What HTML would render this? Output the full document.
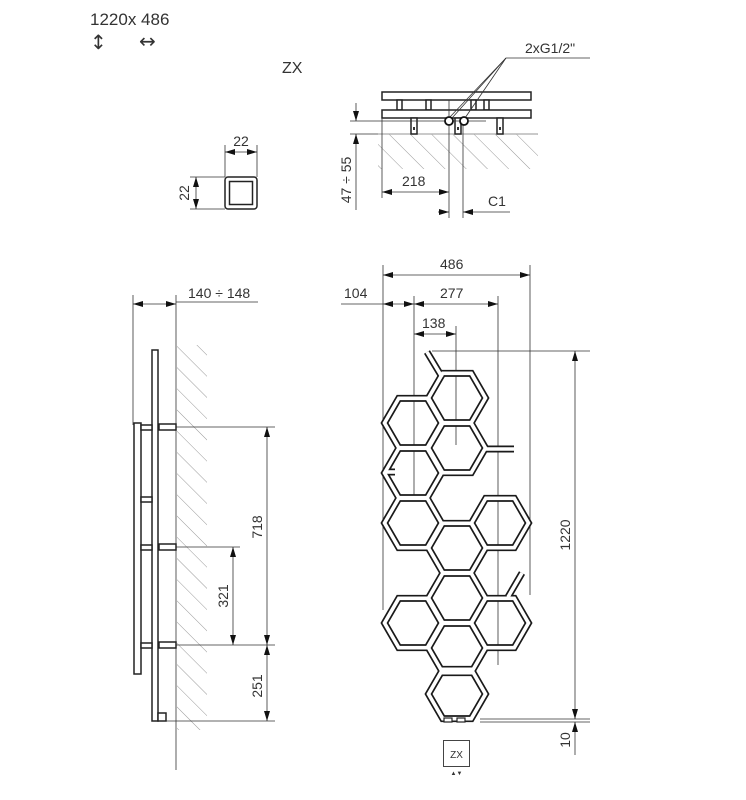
<!DOCTYPE html>
<html><head><meta charset="utf-8"><style>
html,body{margin:0;padding:0;background:#fff;}
svg{display:block;}
text{font-family:"Liberation Sans",sans-serif;fill:#333;}
</style></head><body>
<svg width="746" height="800" viewBox="0 0 746 800" xmlns="http://www.w3.org/2000/svg">
<defs>
<marker id="a" viewBox="0 0 10 6" refX="10" refY="3" markerWidth="10" markerHeight="6" orient="auto-start-reverse" markerUnits="userSpaceOnUse"><path d="M0,0L10,3L0,6z" fill="#111"/></marker>
<pattern id="h" width="15" height="15" patternUnits="userSpaceOnUse" patternTransform="rotate(-45)"><line x1="0" y1="0" x2="0" y2="15" stroke="#999" stroke-width="1"/></pattern>
<path id="hx" d="M28.5,0L14.25,24.68L-14.25,24.68L-28.5,0L-14.25,-24.68L14.25,-24.68Z"/>
</defs>

<!-- header -->
<text x="90" y="25" font-size="17">1220x 486</text>
<text x="90" y="49" font-size="20" style="font-family:'DejaVu Sans',sans-serif">↕</text>
<text x="139" y="48" font-size="20" style="font-family:'DejaVu Sans',sans-serif">↔</text>
<text x="282" y="73" font-size="16">ZX</text>

<!-- square profile -->
<g stroke="#333" stroke-width="0.8" fill="none">
<line x1="225" y1="145" x2="225" y2="177"/><line x1="257" y1="145" x2="257" y2="177"/>
<line x1="225" y1="152" x2="257" y2="152" marker-start="url(#a)" marker-end="url(#a)"/>
<line x1="190" y1="177" x2="225" y2="177"/><line x1="190" y1="209" x2="225" y2="209"/>
<line x1="196" y1="177" x2="196" y2="209" marker-start="url(#a)" marker-end="url(#a)"/>
</g>
<rect x="225" y="177" width="32" height="32" rx="3" fill="none" stroke="#222" stroke-width="1.5"/>
<rect x="229.5" y="181.5" width="23" height="23" fill="none" stroke="#222" stroke-width="1.5"/>
<text x="241" y="146" font-size="14" text-anchor="middle">22</text>
<text transform="translate(189,193) rotate(-90)" font-size="14" text-anchor="middle">22</text>

<!-- top view -->
<rect x="378" y="134" width="160" height="35" fill="url(#h)"/>
<line x1="378" y1="134" x2="538" y2="134" stroke="#aaa" stroke-width="1.2"/>
<g stroke="#222" stroke-width="1.5" fill="#fff">
<rect x="382" y="92" width="149" height="8"/>
<rect x="397" y="100" width="5" height="10"/><rect x="426" y="100" width="5" height="10"/><rect x="471" y="100" width="5" height="10"/><rect x="484" y="100" width="5" height="10"/>
<rect x="382" y="110" width="149" height="8"/>
<rect x="411" y="118" width="6" height="16"/><rect x="455" y="118" width="6" height="16"/><rect x="497" y="118" width="6" height="16"/>
</g>
<g fill="#333"><rect x="413" y="127" width="2" height="3"/><rect x="457" y="127" width="2" height="3"/><rect x="499" y="127" width="2" height="3"/></g>
<g stroke="#333" stroke-width="0.8" fill="none">
<line x1="350" y1="121" x2="486" y2="121"/>
<line x1="350" y1="134" x2="378" y2="134"/>
<line x1="356" y1="103" x2="356" y2="121" marker-end="url(#a)"/>
<line x1="356" y1="210" x2="356" y2="134" marker-end="url(#a)"/>
<line x1="382" y1="118" x2="382" y2="198"/>
<line x1="449" y1="100" x2="449" y2="218"/>
<line x1="463" y1="118" x2="463" y2="218"/>
<line x1="382" y1="192" x2="449" y2="192" marker-start="url(#a)" marker-end="url(#a)"/>
<line x1="438" y1="212" x2="449" y2="212" marker-end="url(#a)"/>
<line x1="510" y1="212" x2="463" y2="212" marker-end="url(#a)"/>
<line x1="449" y1="118" x2="506" y2="58"/><line x1="465" y1="118" x2="506" y2="58"/><line x1="452" y1="118" x2="506" y2="58"/>
<line x1="506" y1="58" x2="590" y2="58"/>
</g>
<circle cx="449" cy="121" r="4" fill="#fff" stroke="#111" stroke-width="1.8"/>
<circle cx="464" cy="121" r="4" fill="#fff" stroke="#111" stroke-width="1.8"/>
<text x="525" y="53" font-size="14">2xG1/2"</text>
<text x="402" y="186" font-size="14">218</text>
<text x="488" y="206" font-size="14">C1</text>
<text transform="translate(351,180) rotate(-90)" font-size="14" text-anchor="middle">47 ÷ 55</text>

<!-- side view -->
<rect x="177" y="345" width="30" height="385" fill="url(#h)"/>
<g stroke="#333" stroke-width="0.8" fill="none">
<line x1="176" y1="295" x2="176" y2="770"/>
<line x1="133" y1="295" x2="133" y2="425"/>
<line x1="133" y1="304" x2="176" y2="304" marker-start="url(#a)" marker-end="url(#a)"/>
<line x1="176" y1="302" x2="258" y2="302"/>
<line x1="176" y1="427" x2="275" y2="427"/>
<line x1="176" y1="547" x2="240" y2="547"/>
<line x1="176" y1="645" x2="275" y2="645"/>
<line x1="166" y1="721" x2="275" y2="721"/>
<line x1="267" y1="427" x2="267" y2="645" marker-start="url(#a)" marker-end="url(#a)"/>
<line x1="233" y1="547" x2="233" y2="645" marker-start="url(#a)" marker-end="url(#a)"/>
<line x1="267" y1="645" x2="267" y2="721" marker-start="url(#a)" marker-end="url(#a)"/>
</g>
<g stroke="#222" stroke-width="1.5" fill="#fff">
<rect x="152" y="350" width="6" height="371"/>
<rect x="134" y="423" width="7" height="251"/>
<rect x="141" y="425" width="11" height="5"/><rect x="141" y="497" width="11" height="5"/><rect x="141" y="545" width="11" height="5"/><rect x="141" y="643" width="11" height="5"/>
<rect x="159" y="424" width="17" height="6"/><rect x="159" y="544" width="17" height="6"/><rect x="159" y="642" width="17" height="6"/>
<rect x="158" y="713" width="8" height="8"/>
</g>
<text x="188" y="298" font-size="14">140 ÷ 148</text>
<text transform="translate(262,527) rotate(-90)" font-size="14" text-anchor="middle">718</text>
<text transform="translate(228,596) rotate(-90)" font-size="14" text-anchor="middle">321</text>
<text transform="translate(262,686) rotate(-90)" font-size="14" text-anchor="middle">251</text>

<!-- front dims -->
<g stroke="#333" stroke-width="0.8" fill="none">
<line x1="383" y1="265" x2="383" y2="610"/>
<line x1="530" y1="265" x2="530" y2="595"/>
<line x1="414" y1="296" x2="414" y2="500"/>
<line x1="456" y1="326" x2="456" y2="445"/>
<line x1="498" y1="296" x2="498" y2="665"/>
<line x1="383" y1="275" x2="530" y2="275" marker-start="url(#a)" marker-end="url(#a)"/>
<line x1="341" y1="304" x2="383" y2="304"/>
<line x1="383" y1="304" x2="414" y2="304" marker-start="url(#a)" marker-end="url(#a)"/>
<line x1="414" y1="304" x2="498" y2="304" marker-start="url(#a)" marker-end="url(#a)"/>
<line x1="414" y1="334" x2="456" y2="334" marker-start="url(#a)" marker-end="url(#a)"/>
<line x1="432" y1="351" x2="590" y2="351"/>
<line x1="480" y1="719" x2="590" y2="719"/>
<line x1="480" y1="722" x2="590" y2="722"/>
<line x1="575" y1="351" x2="575" y2="719" marker-start="url(#a)" marker-end="url(#a)"/>
<line x1="575" y1="755" x2="575" y2="722" marker-end="url(#a)"/>
</g>
<text x="440" y="269" font-size="14">486</text>
<text x="344" y="298" font-size="14">104</text>
<text x="440" y="298" font-size="14">277</text>
<text x="422" y="328" font-size="14">138</text>
<text transform="translate(570,535) rotate(-90)" font-size="14" text-anchor="middle">1220</text>
<text transform="translate(570,740) rotate(-90)" font-size="14" text-anchor="middle">10</text>

<!-- hexagons -->
<g fill="none" stroke-linejoin="miter">
<g stroke="#1a1a1a" stroke-width="7">
<line x1="427" y1="352" x2="442" y2="377"/>
<line x1="485" y1="449" x2="514" y2="449"/>
<line x1="386" y1="472" x2="395" y2="472"/>
<line x1="522" y1="573" x2="508" y2="597"/>
<use href="#hx" x="457" y="398"/><use href="#hx" x="413" y="423"/><use href="#hx" x="457" y="448"/>
<use href="#hx" x="413" y="473"/><use href="#hx" x="413" y="523"/><use href="#hx" x="500" y="523"/>
<use href="#hx" x="457" y="548"/><use href="#hx" x="457" y="598"/><use href="#hx" x="413" y="623"/>
<use href="#hx" x="500" y="623"/><use href="#hx" x="457" y="648"/><use href="#hx" x="457" y="694"/>
</g>
<g stroke="#fff" stroke-width="3.6">
<line x1="427" y1="352" x2="442" y2="377"/>
<line x1="485" y1="449" x2="514" y2="449"/>
<line x1="386" y1="472" x2="395" y2="472"/>
<line x1="522" y1="573" x2="508" y2="597"/>
<use href="#hx" x="457" y="398"/><use href="#hx" x="413" y="423"/><use href="#hx" x="457" y="448"/>
<use href="#hx" x="413" y="473"/><use href="#hx" x="413" y="523"/><use href="#hx" x="500" y="523"/>
<use href="#hx" x="457" y="548"/><use href="#hx" x="457" y="598"/><use href="#hx" x="413" y="623"/>
<use href="#hx" x="500" y="623"/><use href="#hx" x="457" y="648"/><use href="#hx" x="457" y="694"/>
</g>
</g>
<g stroke="#222" stroke-width="1.2" fill="#fff">
<rect x="444" y="718" width="8" height="4"/><rect x="457" y="718" width="8" height="4"/>
</g>

<!-- ZX badge -->
<rect x="443.5" y="740.5" width="26" height="26" fill="#fff" stroke="#444" stroke-width="1"/>
<text x="456.5" y="758" font-size="10" text-anchor="middle">ZX</text>
<text x="456.5" y="775" font-size="6" text-anchor="middle">▲▼</text>
</svg>
</body></html>
